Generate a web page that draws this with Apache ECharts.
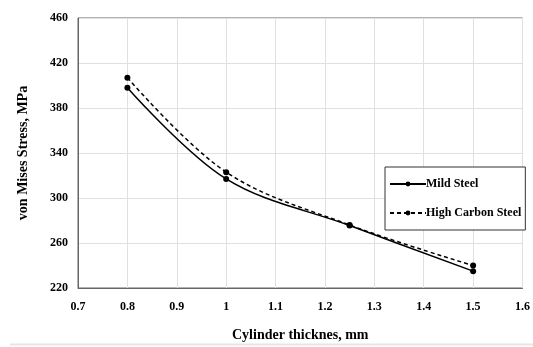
<!DOCTYPE html>
<html><head><meta charset="utf-8">
<script src="https://cdn.jsdelivr.net/npm/echarts@6/dist/echarts.min.js"></script>
<style>html,body{margin:0;padding:0;background:#fff}#c{width:533px;height:347px}</style>
</head><body><div id="c"></div>
<script>
var thickness = [0.8, 1.0, 1.25, 1.5];
var mildSteel = [398, 317, 275.5, 235];
var highCarbonSteel = [407, 323, 276, 240];
var seriesNames = ['Mild Steel', 'High Carbon Steel'];
var xTitle = 'Cylinder thicknes, mm';
var yTitle = 'von Mises Stress, MPa';

function pairs(xs, ys){ return xs.map(function(x,i){ return [x, ys[i]]; }); }
var font = 'Liberation Serif, Times New Roman, serif';
var chart = echarts.init(document.getElementById('c'));
chart.setOption({
  animation: false,
  backgroundColor: '#fff',
  grid: {left: 78, top: 18, right: 5, bottom: 54, show: true, borderColor: '#666', borderWidth: 1},
  xAxis: {
    type: 'value', min: 0.7, max: 1.6, interval: 0.1,
    name: xTitle, nameLocation: 'middle', nameGap: 40,
    nameTextStyle: {fontFamily: font, fontWeight: 'bold', fontSize: 14, color: '#000'},
    axisLine: {lineStyle: {color: '#666'}}, axisTick: {show: false},
    axisLabel: {fontFamily: font, fontWeight: 'bold', fontSize: 12, color: '#000', margin: 13,
      formatter: function(v){ return String(Math.round(v*10)/10); }},
    splitLine: {show: true, lineStyle: {color: '#e0e0e0'}}
  },
  yAxis: {
    type: 'value', min: 220, max: 460, interval: 40,
    name: yTitle, nameLocation: 'middle', nameGap: 48,
    nameTextStyle: {fontFamily: font, fontWeight: 'bold', fontSize: 14, color: '#000'},
    axisLine: {show: true, lineStyle: {color: '#666'}}, axisTick: {show: false},
    axisLabel: {fontFamily: font, fontWeight: 'bold', fontSize: 12, color: '#000', margin: 10},
    splitLine: {show: true, lineStyle: {color: '#e0e0e0'}}
  },
  legend: {
    left: 385, top: 167, orient: 'vertical',
    backgroundColor: '#fff', borderColor: '#333', borderWidth: 1,
    padding: [11, 4, 11, 4], itemGap: 17, itemWidth: 36, itemHeight: 6,
    textStyle: {fontFamily: font, fontWeight: 'bold', fontSize: 12, color: '#000', padding: [0,0,0,-5]},
    data: seriesNames
  },
  series: [
    {name: seriesNames[0], type: 'line', smooth: 0.35, data: pairs(thickness, mildSteel),
     symbol: 'circle', symbolSize: 6, itemStyle: {color: '#000'},
     lineStyle: {color: '#000', width: 1.5, type: 'solid'}},
    {name: seriesNames[1], type: 'line', smooth: 0.35, data: pairs(thickness, highCarbonSteel),
     symbol: 'circle', symbolSize: 6, itemStyle: {color: '#000'},
     lineStyle: {color: '#000', width: 1.5, type: [4, 3]}}
  ],
  graphic: [{type: 'line', shape: {x1: 10, y1: 344.5, x2: 533, y2: 344.5}, style: {stroke: '#e6e6e6', lineWidth: 2}}]
});
</script></body></html>
